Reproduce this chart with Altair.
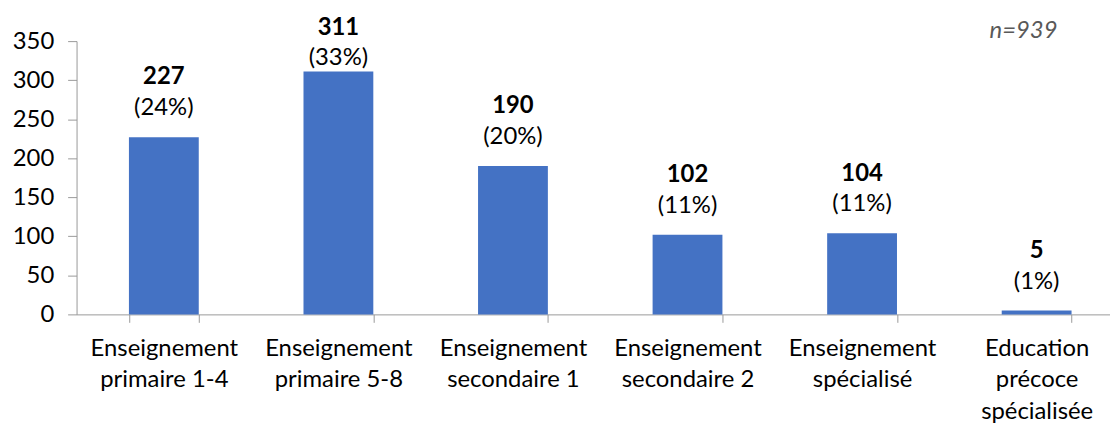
import altair as alt
import pandas as pd

categories = [
    "Enseignement\nprimaire 1-4",
    "Enseignement\nprimaire 5-8",
    "Enseignement\nsecondaire 1",
    "Enseignement\nsecondaire 2",
    "Enseignement\nspécialisé",
    "Education\nprécoce\nspécialisée",
]
counts = [227, 311, 190, 102, 104, 5]
percents = ["(24%)", "(33%)", "(20%)", "(11%)", "(11%)", "(1%)"]
y_ticks = [0, 50, 100, 150, 200, 250, 300, 350]
note = "n=939"

df = pd.DataFrame({"cat": categories, "n": counts, "pct": percents})

FONT = "Lato"
FS = 24

x_scale = alt.Scale(range=[0, 1054], paddingInner=0.6, paddingOuter=0.3)
y_scale = alt.Scale(domain=[0, 350], nice=False)

x_axis = alt.Axis(
    title=None,
    labelAngle=0,
    labelExpr="split(datum.label, '\\n')",
    labelLineHeight=32,
    labelFont=FONT,
    labelFontSize=FS,
    labelColor="#000000",
    labelPadding=14,
    tickBand="extent",
    tickSize=8,
    tickColor="#999999",
    domainColor="#999999",
    labelBaseline="top",
    labelOverlap=False,
)
y_axis = alt.Axis(
    title=None,
    values=y_ticks,
    grid=False,
    labelFont=FONT,
    labelFontSize=FS,
    labelColor="#000000",
    tickSize=9,
    tickColor="#999999",
    domainColor="#999999",
    labelPadding=14,
    labelOverlap=False,
)

x_enc = alt.X("cat:N", sort=categories, scale=x_scale, axis=x_axis)

base = alt.Chart(df).transform_calculate(ly="min(datum.n, 291)")
bars = base.mark_bar(color="#4472C4").encode(
    x=x_enc, y=alt.Y("n:Q", scale=y_scale, axis=y_axis)
)
y_lab = alt.Y("ly:Q", scale=y_scale, axis=y_axis)
num = base.mark_text(font=FONT, fontSize=FS, fontWeight="bold", dy=-60, baseline="middle", color="#000000").encode(
    x=x_enc, y=y_lab, text="n:Q"
)
pct = base.mark_text(font=FONT, fontSize=FS, dy=-29, baseline="middle", color="#000000").encode(
    x=x_enc, y=y_lab, text="pct:N"
)
note_df = pd.DataFrame({"t": [note]})
note_mark = alt.Chart(note_df).mark_text(
    font=FONT, fontSize=FS, fontStyle="italic", color="#595959", baseline="middle", align="center"
).encode(x=alt.value(953), y=alt.value(-10), text="t:N")

chart = alt.layer(bars, num, pct, note_mark).properties(
    width=1040,
    height=275,
    autosize=alt.AutoSizeParams(type="none"),
    padding={"left": 69, "top": 32, "right": 0, "bottom": 110},
).configure_view(stroke=None)

chart.save("out.html", embed_options={"renderer": "svg", "actions": False})
